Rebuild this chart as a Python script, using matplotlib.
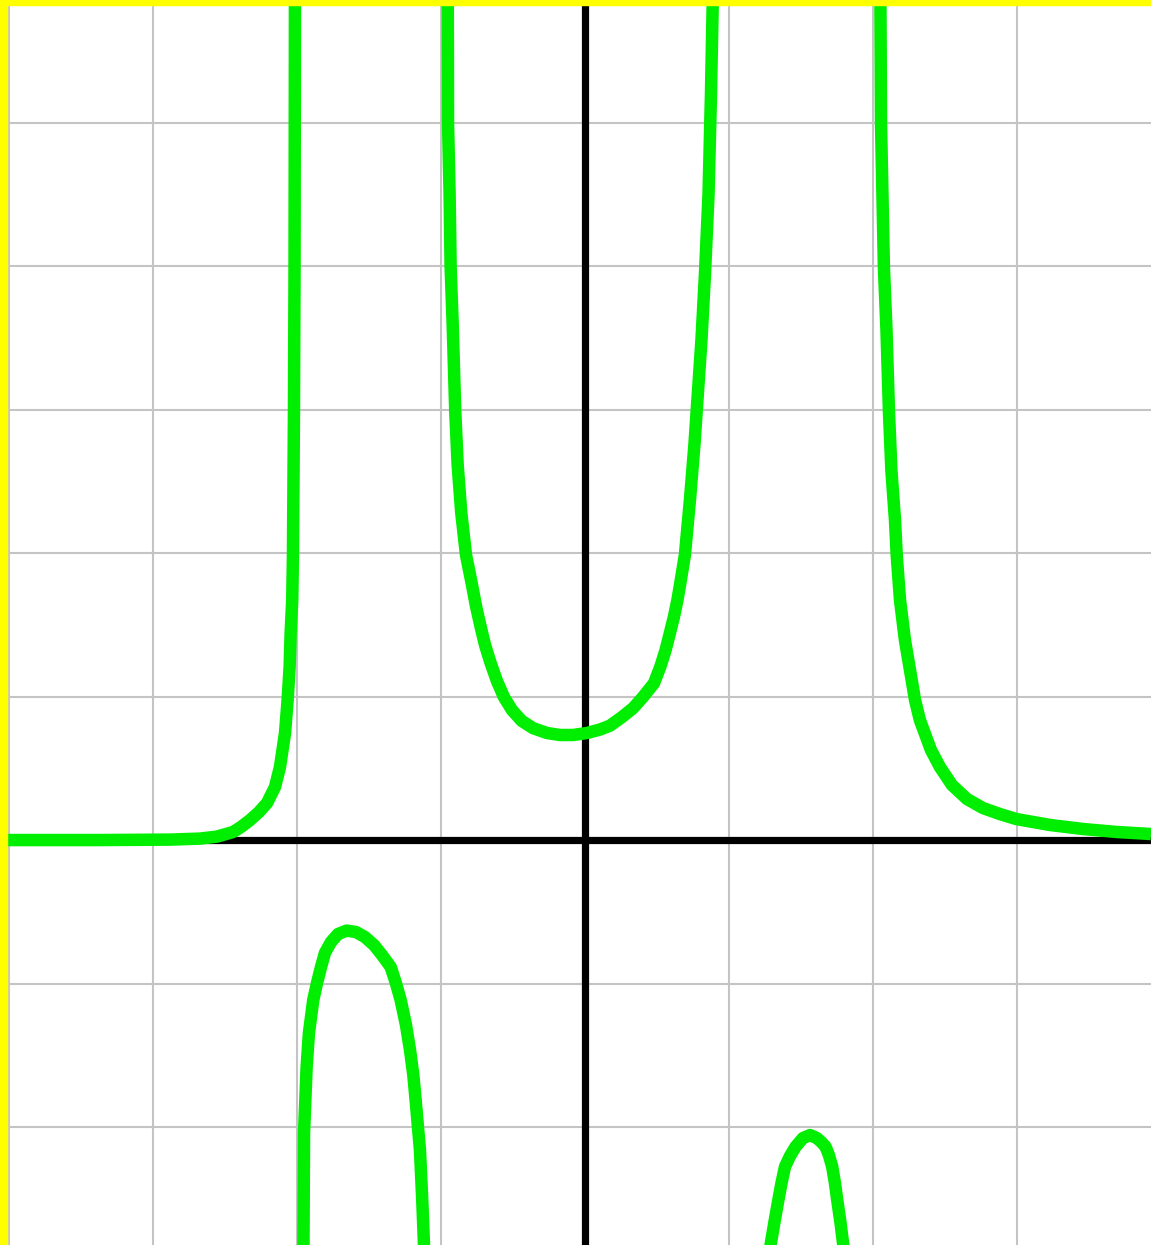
import matplotlib
matplotlib.use("Agg")
import matplotlib.pyplot as plt
from matplotlib.patches import Rectangle

# curve, one list pair per branch
left_x = [-4.063, -3.368, -2.882, -2.674, -2.556, -2.444, -2.389, -2.326, -2.264, -2.208,
          -2.153, -2.118, -2.083, -2.065, -2.051, -2.044, -2.033, -2.028, -2.021, -2.017,
          -2.014]
left_y = [0.0, 0.0, 0.003, 0.010, 0.024, 0.056, 0.091, 0.139, 0.195, 0.258,
          0.369, 0.509, 0.746, 0.976, 1.206, 1.443, 1.672, 1.986, 2.990, 3.993,
          6.0]

mid_x = [-0.953, -0.951, -0.940, -0.933, -0.919, -0.901, -0.884, -0.859, -0.826, -0.787,
         -0.757, -0.724, -0.694, -0.655, -0.611, -0.563, -0.507, -0.440, -0.361, -0.264,
         -0.174, -0.083, 0.014, 0.104, 0.174, 0.257, 0.335, 0.403, 0.479, 0.524,
         0.560, 0.590, 0.618, 0.642, 0.662, 0.694, 0.729, 0.760, 0.781, 0.809,
         0.833, 0.858, 0.875, 0.887, 0.889]
mid_y = [6.0, 4.997, 4.495, 3.993, 3.603, 2.990, 2.613, 2.279, 1.986, 1.791,
         1.631, 1.484, 1.359, 1.233, 1.108, 0.997, 0.906, 0.831, 0.780, 0.746,
         0.732, 0.732, 0.746, 0.770, 0.797, 0.857, 0.920, 0.997, 1.092, 1.209,
         1.324, 1.443, 1.556, 1.672, 1.789, 1.986, 2.369, 2.753, 3.066, 3.484,
         3.937, 4.495, 5.192, 5.819, 6.0]

right_x = [2.049, 2.052, 2.056, 2.076, 2.094, 2.111, 2.128, 2.153, 2.165, 2.188,
           2.222, 2.269, 2.292, 2.326, 2.354, 2.403, 2.465, 2.549, 2.653, 2.764,
           2.882, 2.997, 3.229, 3.458, 3.694, 3.931]
right_y = [6.0, 5.819, 4.997, 3.993, 3.554, 2.990, 2.578, 2.230, 1.986, 1.672,
           1.394, 1.115, 0.976, 0.836, 0.760, 0.627, 0.509, 0.383, 0.286, 0.223,
           0.181, 0.146, 0.105, 0.077, 0.056, 0.042]

dip1_x = [-1.955, -1.955, -1.951, -1.933, -1.917, -1.887, -1.861, -1.833, -1.806, -1.764,
          -1.715, -1.655, -1.590, -1.528, -1.465, -1.410, -1.349, -1.313, -1.280, -1.243,
          -1.215, -1.192, -1.176, -1.146, -1.130, -1.118, -1.115]
dip1_y = [-3.0, -2.822, -2.042, -1.582, -1.345, -1.115, -0.997, -0.885, -0.787, -0.711,
          -0.655, -0.631, -0.641, -0.676, -0.732, -0.801, -0.885, -0.997, -1.115, -1.289,
          -1.463, -1.638, -1.812, -2.160, -2.509, -2.822, -3.0]

dip2_x = [1.281, 1.289, 1.316, 1.343, 1.365, 1.389, 1.424, 1.463, 1.514, 1.563,
          1.611, 1.642, 1.671, 1.694, 1.717, 1.736, 1.752, 1.774, 1.794, 1.799]
dip2_y = [-3.0, -2.822, -2.662, -2.509, -2.390, -2.277, -2.202, -2.137, -2.077, -2.056,
          -2.077, -2.105, -2.137, -2.195, -2.277, -2.390, -2.509, -2.662, -2.822, -3.0]

x_ticks = [-4, -3, -2, -1, 0, 1, 2, 3]
y_ticks = [-2, -1, 0, 1, 2, 3, 4, 5]

fig = plt.figure(figsize=(11.51, 12.45), dpi=100)
ax = fig.add_axes([0, 0, 1, 1])
ax.set_xlim(-4.0625, 3.931)
ax.set_ylim(-2.822, 5.854)

ax.set_xticks(x_ticks)
ax.set_yticks(y_ticks)
ax.tick_params(length=0, labelbottom=False, labelleft=False)
ax.grid(True, color="#c4c4c4", linewidth=1.5)
for s in ax.spines.values():
    s.set_visible(False)

ax.axhline(0, color="black", linewidth=5.2, zorder=2)
ax.axvline(0, color="black", linewidth=5.2, zorder=2)

green = "#00ee00"
for xs, ys in [(left_x, left_y), (mid_x, mid_y), (right_x, right_y),
               (dip1_x, dip1_y), (dip2_x, dip2_y)]:
    ax.plot(xs, ys, color=green, linewidth=9, solid_capstyle="butt",
            solid_joinstyle="round", zorder=3)

# yellow frame on the left and top edges
fig.patches.append(Rectangle((0, 0), 7 / 1151, 1, transform=fig.transFigure,
                             color="#ffff00", zorder=10))
fig.patches.append(Rectangle((0, 1 - 5 / 1245), 1, 5 / 1245, transform=fig.transFigure,
                             color="#ffff00", zorder=10))

fig.savefig("out.png", dpi=100)
